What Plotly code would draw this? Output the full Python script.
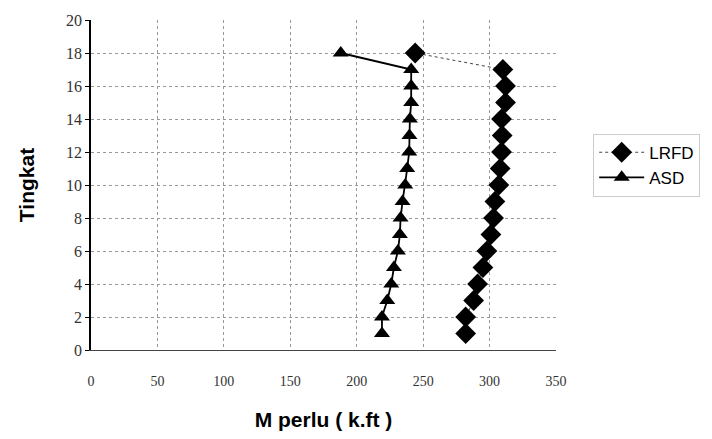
import plotly.graph_objects as go

tingkat = list(range(1, 19))
lrfd = [282, 282, 288, 291, 295, 298, 301, 303, 304, 307, 308, 309, 309.5, 309, 312, 312, 310, 244]
asd = [219, 219, 223, 226, 228, 231, 232.5, 233, 234.5, 236.5, 238, 239.5, 239.7, 240, 241, 241, 241, 188]

x_ticks = [0, 50, 100, 150, 200, 250, 300, 350]
y_ticks = [0, 2, 4, 6, 8, 10, 12, 14, 16, 18, 20]

fig = go.Figure()
fig.add_trace(go.Scatter(
    x=lrfd, y=tingkat, name="LRFD", mode="lines+markers",
    line=dict(color="#444444", width=1, dash="dot"),
    marker=dict(symbol="diamond", size=16, color="black"),
))
fig.add_trace(go.Scatter(
    x=asd, y=tingkat, name="ASD", mode="lines+markers",
    line=dict(color="black", width=1.8),
    marker=dict(symbol="triangle-up", size=14, color="black"),
))

fig.update_layout(
    width=712, height=439,
    margin=dict(l=91, r=153, t=14, b=89),
    paper_bgcolor="white", plot_bgcolor="white",
    showlegend=True,
    legend=dict(
        x=1.08, y=0.56, xanchor="left", yanchor="middle",
        font=dict(family="Liberation Sans, Arial", size=17, color="black"),
        bordercolor="#cccccc", borderwidth=1,
        itemwidth=45, tracegroupgap=6,
    ),
    xaxis=dict(
        range=[0, 350], tickvals=x_ticks, ticktext=[str(v) for v in x_ticks],
        showgrid=True, gridcolor="#999999", griddash="dot", gridwidth=1,
        showline=True, linecolor="#444444", linewidth=1, mirror=False,
        zeroline=False, ticks="", ticklabelstandoff=18,
        tickfont=dict(family="Liberation Serif, Times New Roman", size=14, color="#333333"),
        title=dict(text="<b>M perlu ( k.ft )</b>",
                   font=dict(family="Liberation Sans, Arial", size=21, color="black"),
                   standoff=24),
    ),
    yaxis=dict(
        range=[0, 20], tickvals=y_ticks, ticktext=[str(v) for v in y_ticks],
        showgrid=True, gridcolor="#999999", griddash="dot", gridwidth=1,
        showline=True, linecolor="black", linewidth=1.5,
        zeroline=False, ticks="outside", ticklen=4, tickcolor="black",
        tickfont=dict(family="Liberation Serif, Times New Roman", size=16, color="#333333"),
        title=dict(text="<b>Tingkat</b>",
                   font=dict(family="Liberation Sans, Arial", size=21, color="black"),
                   standoff=26),
    ),
)

fig.write_html("out.html")
